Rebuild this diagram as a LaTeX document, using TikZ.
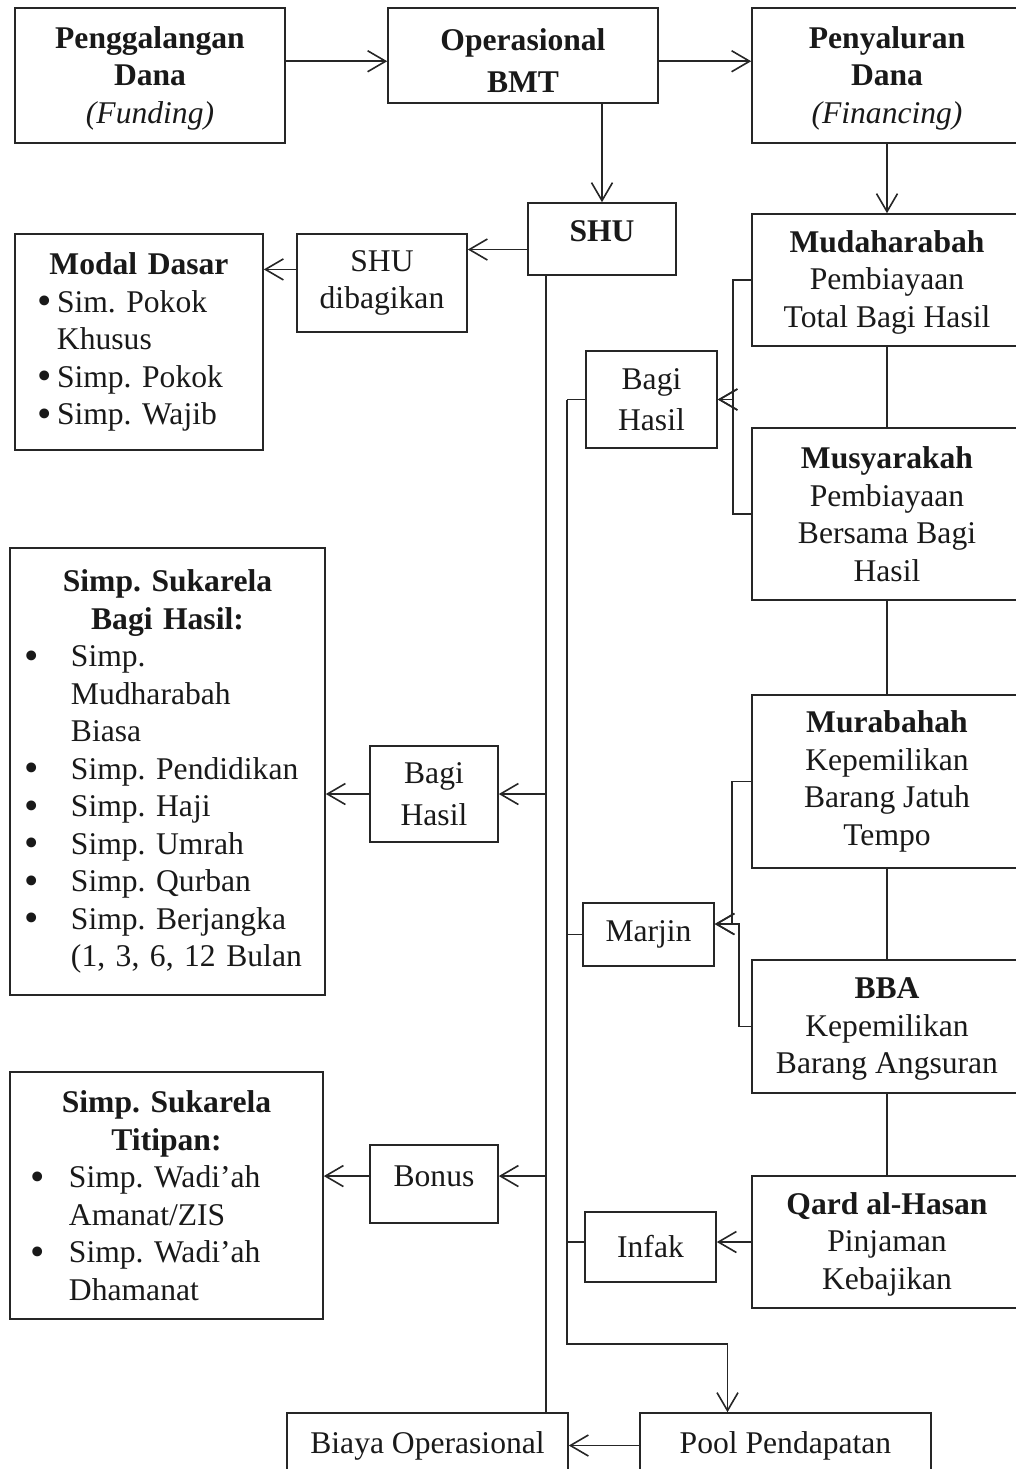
\documentclass[tikz,border=0pt]{standalone}
\usepackage{fontspec}
\setmainfont{Liberation Serif}
\usetikzlibrary{arrows.meta}
\frenchspacing

\tikzset{
	box/.style={draw=black!85, line width=0.8pt, rectangle, inner sep=0pt, align=center, text=black!90},
	conn/.style={draw=black!85, line width=0.8pt},
	arr/.style={conn, -{Straight Barb[length=9pt,width=10.5pt,line width=0.8pt]}}
}
\newcommand{\hd}[1]{\hfill\textbf{#1}\hfill\null}
\newcommand{\itm}[2]{\makebox[#1][l]{\smash{\raisebox{-1.3pt}{\scalebox{1.3}{\textbullet}}}}#2}

\begin{document}
\begin{tikzpicture}[x=0.5pt, y=-0.5pt, font=\fontsize{15.8pt}{18.75pt}\selectfont]
	\useasboundingbox (0,0) rectangle (1016,1469);
	\clip (0,0) rectangle (1016,1469);

	% Baris atas
	\node[box, minimum width=135pt, minimum height=67.5pt] (fund) at (150,75.5) {\rule{0pt}{13.5pt}\textbf{Penggalangan}\\\textbf{Dana}\\\textit{(Funding)}};
	\node[box, minimum width=135pt, minimum height=47.5pt] (ops) at (523,55.5) {\rule{0pt}{16pt}\textbf{Operasional}\\[2.5pt]\textbf{BMT}};
	\node[box, minimum width=135pt, minimum height=67.5pt] (fin) at (887,75.5) {\rule{0pt}{13.5pt}\textbf{Penyaluran}\\\textbf{Dana}\\\textit{(Financing)}};

	% SHU
	\node[box, minimum width=74pt, minimum height=36pt, text depth=7.5pt] (shu) at (602,239) {\textbf{SHU}};
	\node[box, minimum width=85pt, minimum height=49pt] (shudib) at (382,283) {SHU\\dibagikan};
	\node[box, align=left, inner xsep=11.5pt, text width=101pt, minimum height=108pt] (modal) at (139,342)
		{\hd{Modal Dasar}\\\itm{9.5pt}{Sim. Pokok}\\\hspace*{9.5pt}Khusus\\\itm{9.5pt}{Simp. Pokok}\\\itm{9.5pt}{Simp. Wajib}};

	% Simpanan
	\node[box, align=left, inner xsep=7.5pt, text width=142.5pt, minimum height=223.5pt] (sukarela) at (167.5,771.5)
		{\hd{Simp. Sukarela}\\\hd{Bagi Hasil:}\\\itm{23pt}{Simp.}\\\hspace*{23pt}Mudharabah\\\hspace*{23pt}Biasa\\
		\itm{23pt}{Simp. Pendidikan}\\\itm{23pt}{Simp. Haji}\\\itm{23pt}{Simp. Umrah}\\\itm{23pt}{Simp. Qurban}\\
		\itm{23pt}{Simp. Berjangka}\\\hspace*{23pt}(1, 3, 6, 12 Bulan};
	\node[box, align=left, inner xsep=10.5pt, text width=135.5pt, minimum height=123.5pt] (titip) at (166.5,1195.5)
		{\hd{Simp. Sukarela}\\\hd{Titipan:}\\\itm{19pt}{Simp. Wadi’ah}\\\hspace*{19pt}Amanat/ZIS\\\itm{19pt}{Simp. Wadi’ah}\\\hspace*{19pt}Dhamanat};
	\node[box, minimum width=64pt, minimum height=48pt] (bhL) at (434,794) {Bagi\\[2pt]Hasil};
	\node[box, minimum width=64pt, minimum height=39pt, text depth=8pt] (bonus) at (434,1184) {Bonus};

	% Pembiayaan
	\node[box, minimum width=135pt, minimum height=66pt] (mudh) at (887,280) {\rule{0pt}{13pt}\textbf{Mudaharabah}\\Pembiayaan\\Total Bagi Hasil};
	\node[box, minimum width=135pt, minimum height=86pt] (musy) at (887,514) {\textbf{Musyarakah}\\Pembiayaan\\Bersama Bagi\\Hasil};
	\node[box, minimum width=135pt, minimum height=86.5pt] (murab) at (887,781.5) {\textbf{Murabahah}\\Kepemilikan\\Barang Jatuh\\Tempo};
	\node[box, minimum width=135pt, minimum height=66.5pt] (bba) at (887,1026.5) {\rule{0pt}{13pt}\textbf{BBA}\\Kepemilikan\\Barang Angsuran};
	\node[box, minimum width=135pt, minimum height=66pt] (qard) at (887,1242) {\rule{0pt}{13pt}\textbf{Qard al-Hasan}\\Pinjaman\\Kebajikan};
	\node[box, minimum width=65.5pt, minimum height=48.5pt] (bhR) at (651.5,399.5) {Bagi\\[2pt]Hasil};
	\node[box, minimum width=65.5pt, minimum height=31.5pt] (marjin) at (648.5,934.5) {Marjin};
	\node[box, minimum width=65.5pt, minimum height=35pt] (infak) at (650.5,1247) {Infak};

	% Baris bawah
	\node[box, minimum width=140.5pt, minimum height=32.5pt] (biaya) at (427.5,1445.5) {Biaya Operasional};
	\node[box, minimum width=145.5pt, minimum height=32.5pt] (pool) at (785.5,1445.5) {Pool Pendapatan};

	% Alur utama
	\draw[arr] (fund.6) -- (fund.6 -| ops.west);
	\draw[arr] (fund.6 -| ops.east) -- (fund.6 -| fin.west);
	\draw[arr] (shu.north |- ops.south) -- (shu.north);
	\draw[arr] (fin.south) -- (mudh.north);
	\draw[arr] (shu.188) -- (shu.188 -| shudib.east);
	\draw[arr] (shudib.171) -- (shudib.171 -| modal.east);

	% Garis SHU ke bawah
	\coordinate (spine) at ([xshift=-28pt]shu.south);
	\draw[conn] (spine) -- (spine |- biaya.north);
	\draw[arr] (spine |- bhL.east) -- (bhL.east);
	\draw[arr] (bhL.west) -- (bhL.west -| sukarela.east);
	\draw[arr] (spine |- bonus.7) -- (bonus.7);
	\draw[arr] (bonus.173) -- (bonus.173 -| titip.east);

	% Kolom kanan
	\draw[conn] (mudh) -- (musy);
	\draw[conn] (musy) -- (murab);
	\draw[conn] (murab) -- (bba);
	\draw[conn] (bba) -- (qard);
	\draw[arr] (mudh.west) -- ++(-9pt,0) |- (bhR.east);
	\draw[arr] (musy.west) -- ++(-9pt,0) |- (bhR.east);
	\draw[arr] (murab.west) -- ++(-9.5pt,0) |- (marjin.9);
	\draw[arr] (bba.west) -- ++(-6pt,0) |- (marjin.9);
	\draw[arr] (qard.west) -- (qard.west -| infak.east);

	% Pool Pendapatan
	\coordinate (rail) at ([xshift=-9pt]bhR.west);
	\coordinate (bend) at ([xshift=-29pt,yshift=34pt]pool.north);
	\draw[conn] (bhR.west) -- (rail);
	\draw[conn] (marjin.west) -- (marjin.west -| rail);
	\draw[conn] (qard.west -| infak.west) -- (qard.west -| rail);
	\draw[arr] (rail) |- (bend) -- (bend |- pool.north);
	\draw[arr] (pool.west) -- (biaya.east);
\end{tikzpicture}
\end{document}
